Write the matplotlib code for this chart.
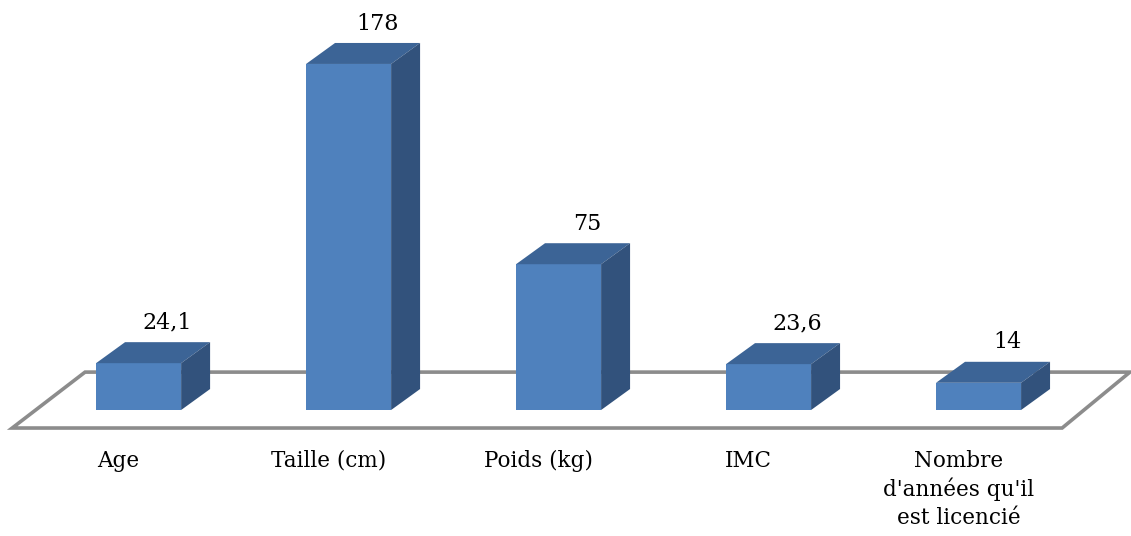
import matplotlib.pyplot as plt
from matplotlib.patches import Polygon

categories = ["Age", "Taille (cm)", "Poids (kg)", "IMC", "Nombre\nd'années qu'il\nest licencié"]
values = [24.1, 178, 75, 23.6, 14]
value_labels = ["24,1", "178", "75", "23,6", "14"]

front = "#4f81bd"
top_col = "#3c6496"
side_col = "#32527c"
floor_col = "#8c8c8c"

w = 0.405     # bar width (category units)
dx = 0.138    # depth offset x
dy = 10.8     # depth offset y (value units)

fig = plt.figure(figsize=(11.31, 5.36), dpi=100)
ax = fig.add_axes([0, 0, 1, 1])
ax.set_xlim(-0.66, 4.726)
ax.set_ylim(-64.8, 210.9)
ax.axis("off")

# floor
floor = Polygon([(-0.602, -9.26), (4.398, -9.26), (4.721, 19.5), (-0.255, 19.5)],
                closed=True, fill=False, edgecolor=floor_col, lw=2.6, zorder=1,
                joinstyle="miter")
ax.add_patch(floor)

xs = list(range(len(values)))
ax.bar(xs, values, width=w, color=front, zorder=3, linewidth=0)

for x, v, lab in zip(xs, values, value_labels):
    l, r = x - w / 2, x + w / 2
    ax.add_patch(Polygon([(l, v), (r, v), (r + dx, v + dy), (l + dx, v + dy)],
                         closed=True, facecolor=top_col, edgecolor="none", zorder=3))
    ax.add_patch(Polygon([(r, 0), (r, v), (r + dx, v + dy), (r + dx, dy)],
                         closed=True, facecolor=side_col, edgecolor="none", zorder=3))
    ax.annotate(lab, (x + dx, v + dy), xytext=(0, 6), textcoords="offset points",
                ha="center", va="bottom", fontsize=16, family="DejaVu Serif")

for x, c in zip(xs, categories):
    ax.text(x - 0.095, -20.5, c, ha="center", va="top", fontsize=15.5,
            family="DejaVu Serif", linespacing=1.32)

fig.savefig("out.png", dpi=100)
